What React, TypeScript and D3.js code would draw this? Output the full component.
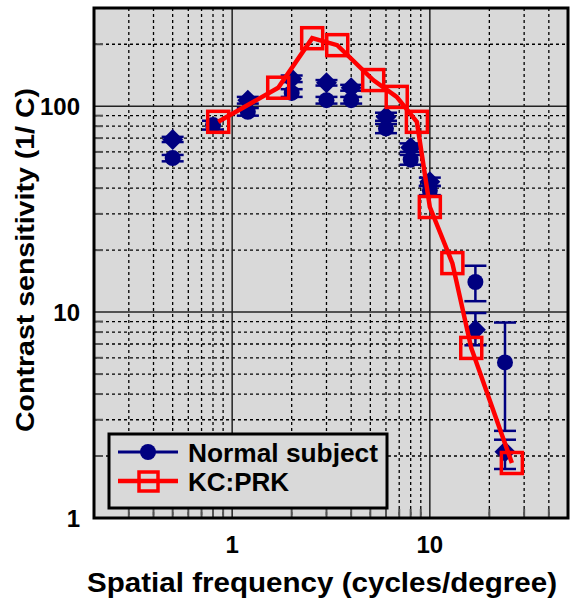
import React from "react";
import * as d3 from "d3";

const normalCircleFreq = [0.5, 0.8, 1.2, 2, 3, 4, 6, 8, 10, 17, 24];
const normalCircleVal = [56, 81, 94, 116, 107, 107, 78, 55, 39, 14, 5.7];
const normalCircleLo = [54, 77, 90, 111, 103, 103, 74, 52, 37, 11.3, 2.65];
const normalCircleHi = [58, 85, 98, 121, 111, 111, 82, 58, 41, 16.8, 8.9];

const normalDiamondFreq = [0.5, 1.2, 2, 3, 4, 6, 8, 10, 17, 24];
const normalDiamondVal = [69, 107, 136, 130, 123, 89, 63, 43, 8.2, 2.1];
const normalDiamondLo = [67, 103, 131, 126, 119, 85, 60, 41, 6.9, 1.73];
const normalDiamondHi = [71, 111, 141, 134, 127, 93, 66, 45, 9.9, 2.4];

const kcFreq = [0.85, 1.71, 2.54, 3.4, 5.17, 6.8, 8.6, 10, 13, 16.2, 26];
const kcVal = [84, 123, 214, 198, 134, 111, 84, 32.4, 17.3, 6.7, 1.85];

const xTickLabels = [1, 10];
const yTickLabels = [1, 10, 100];
const xGrid = [0.3, 0.4, 0.5, 0.6, 0.7, 0.8, 0.9, 2, 3, 4, 5, 6, 7, 8, 9, 20, 30, 40];
const yGrid = [2, 3, 4, 5, 6, 7, 8, 9, 20, 30, 40, 50, 60, 70, 80, 90, 200];

const W = 571;
const H = 603;
const L = 94, R = 568, T = 8, B = 518;
const NAVY = "#000080";
const RED = "#ff0000";
const FONT = "'Liberation Sans', Arial, sans-serif";

export default function App() {
  const x = d3.scaleLog().domain([0.2, 50]).range([L, R]);
  const y = d3.scaleLog().domain([1, 300]).range([B, T]);
  const line = d3
    .line<number>()
    .x((_, i) => x(kcFreq[i]))
    .y((d) => y(d));

  const diamond = (cx: number, cy: number, r: number) =>
    `M${cx},${cy - r}L${cx + r},${cy}L${cx},${cy + r}L${cx - r},${cy}Z`;

  const errBar = (f: number, lo: number, hi: number, key: string) => {
    const cx = x(f);
    return (
      <g key={key} stroke={NAVY} strokeWidth={2.5}>
        <line x1={cx} x2={cx} y1={y(lo)} y2={y(hi)} />
        <line x1={cx - 11} x2={cx + 11} y1={y(lo)} y2={y(lo)} />
        <line x1={cx - 11} x2={cx + 11} y1={y(hi)} y2={y(hi)} />
      </g>
    );
  };

  return (
    <svg
      width={W}
      height={H}
      style={{ position: "absolute", left: 0, top: 0, background: "#fff" }}
      fontFamily={FONT}
    >
      <rect x={L} y={T} width={R - L} height={B - T} fill="#d9d9d9" />
      {/* grid */}
      {xGrid.map((v) => (
        <line
          key={"gx" + v}
          x1={x(v)}
          x2={x(v)}
          y1={T}
          y2={B}
          stroke="#000"
          strokeWidth={1.3}
          strokeDasharray="3,3"
        />
      ))}
      {yGrid.map((v) => (
        <line
          key={"gy" + v}
          x1={L}
          x2={R}
          y1={y(v)}
          y2={y(v)}
          stroke="#000"
          strokeWidth={1.3}
          strokeDasharray="3,3"
        />
      ))}
      {[1, 10].map((v) => (
        <line key={"dx" + v} x1={x(v)} x2={x(v)} y1={T} y2={B} stroke="#222" strokeWidth={1.5} />
      ))}
      {[10, 100].map((v) => (
        <line key={"dy" + v} x1={L} x2={R} y1={y(v)} y2={y(v)} stroke="#222" strokeWidth={1.5} />
      ))}
      {/* minor ticks */}
      {yGrid.map((v) => (
        <line key={"ty" + v} x1={L} x2={L + 9} y1={y(v)} y2={y(v)} stroke="#555" strokeWidth={2} />
      ))}
      {xGrid.map((v) => (
        <line key={"tx" + v} x1={x(v)} x2={x(v)} y1={B} y2={B - 9} stroke="#555" strokeWidth={2} />
      ))}

      {/* normal error bars */}
      {normalDiamondFreq.map((f, i) =>
        errBar(f, normalDiamondLo[i], normalDiamondHi[i], "ed" + i)
      )}
      {normalCircleFreq.map((f, i) =>
        errBar(f, normalCircleLo[i], normalCircleHi[i], "ec" + i)
      )}
      {normalDiamondFreq.map((f, i) => (
        <path key={"d" + i} d={diamond(x(f), y(normalDiamondVal[i]), 10.5)} fill={NAVY} />
      ))}
      {normalCircleFreq.map((f, i) => (
        <circle key={"c" + i} cx={x(f)} cy={y(normalCircleVal[i])} r={8} fill={NAVY} />
      ))}

      {/* KC:PRK */}
      <path d={line(kcVal) || ""} fill="none" stroke={RED} strokeWidth={4.5} />
      {kcFreq.map((f, i) => (
        <rect
          key={"k" + i}
          x={x(f) - 10.5}
          y={y(kcVal[i]) - 10.5}
          width={21}
          height={21}
          fill="none"
          stroke={RED}
          strokeWidth={3.5}
        />
      ))}

      {/* frame */}
      <rect x={L} y={T} width={R - L} height={B - T} fill="none" stroke="#000" strokeWidth={3} />

      {/* legend */}
      <rect x={109} y={434} width={278} height={74} fill="#d9d9d9" stroke="#000" strokeWidth={3} />
      <line x1={118} x2={178} y1={452} y2={452} stroke={NAVY} strokeWidth={3} />
      <circle cx={148} cy={452} r={8} fill={NAVY} />
      <text x={188} y={462} fontSize={26} fontWeight="bold" textLength={190} lengthAdjust="spacingAndGlyphs">
        Normal subject
      </text>
      <line x1={118} x2={178} y1={481} y2={481} stroke={RED} strokeWidth={4.5} />
      <rect x={139} y={472} width={19} height={19} fill="none" stroke={RED} strokeWidth={3.5} />
      <text x={188} y={491} fontSize={26} fontWeight="bold">KC:PRK</text>

      {/* tick labels */}
      {xTickLabels.map((v) => (
        <text key={"xl" + v} x={x(v)} y={553} fontSize={24} fontWeight="bold" textAnchor="middle">
          {v}
        </text>
      ))}
      {yTickLabels.map((v) => (
        <text key={"yl" + v} x={80} y={y(v) + 9} fontSize={24} fontWeight="bold" textAnchor="end">
          {v}
        </text>
      ))}

      {/* axis titles */}
      <text
        x={87}
        y={592}
        fontSize={28}
        fontWeight="bold"
        textLength={470}
        lengthAdjust="spacingAndGlyphs"
      >
        Spatial frequency (cycles/degree)
      </text>
      <text
        transform="translate(34,432) rotate(-90)"
        fontSize={25}
        fontWeight="bold"
        textLength={344}
        lengthAdjust="spacingAndGlyphs"
      >
        Contrast sensitivity (1/ C)
      </text>
    </svg>
  );
}
